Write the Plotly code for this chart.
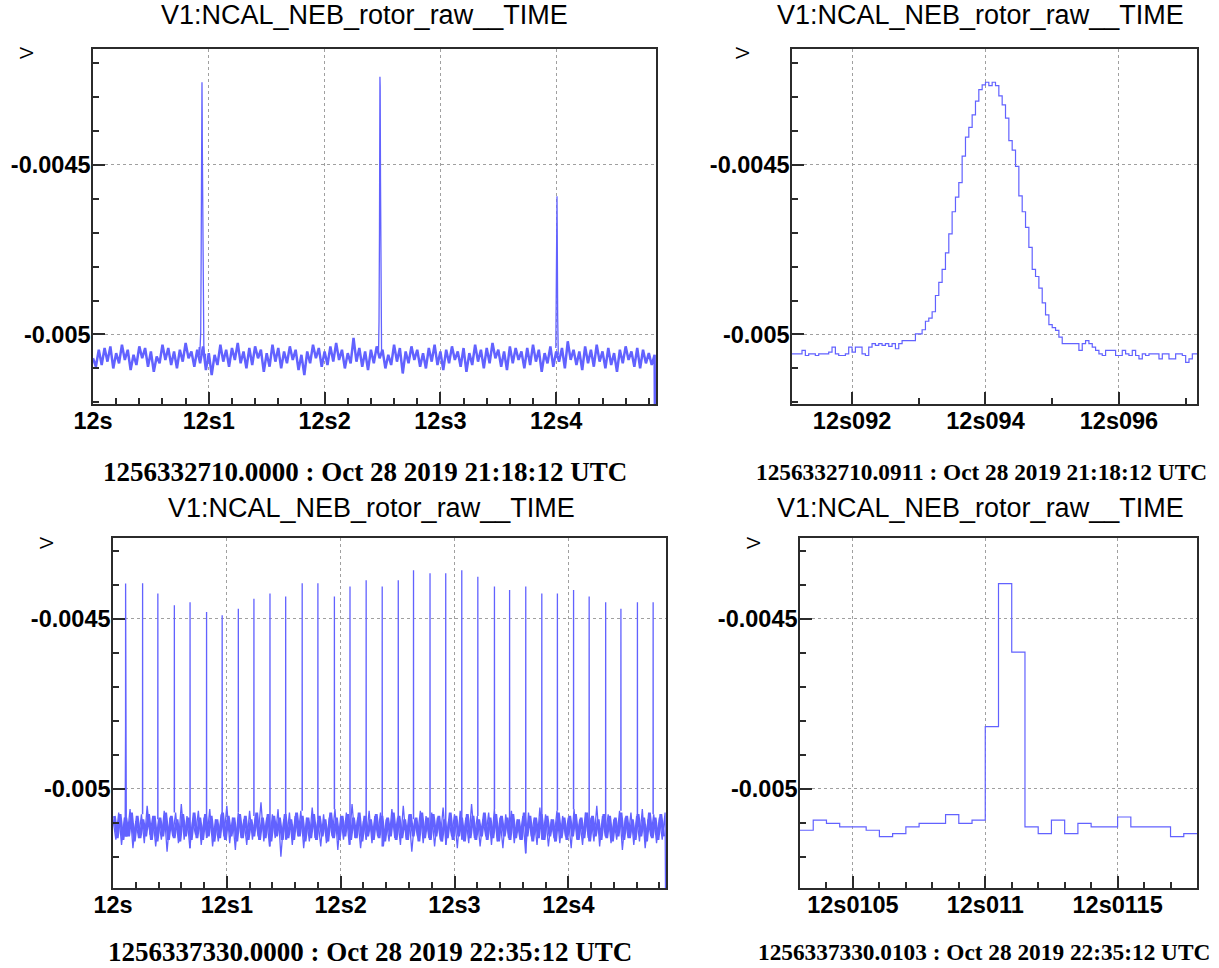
import numpy as np
import plotly.graph_objects as go

W, H = 1219, 968

# ---------------- text ----------------
panel_title = "V1:NCAL_NEB_rotor_raw__TIME"
y_title = "V"
tl_xlabel = "1256332710.0000 : Oct 28 2019 21:18:12 UTC"
tr_xlabel = "1256332710.0911 : Oct 28 2019 21:18:12 UTC"
bl_xlabel = "1256337330.0000 : Oct 28 2019 22:35:12 UTC"
br_xlabel = "1256337330.0103 : Oct 28 2019 22:35:12 UTC"

# ---------------- ticks ----------------
y_tickvals = [-0.005, -0.0045]
y_ticktext = ["-0.005", "-0.0045"]
wide_tickvals = [12.0, 12.1, 12.2, 12.3, 12.4]
wide_ticktext = ["12s", "12s1", "12s2", "12s3", "12s4"]
tr_tickvals = [12.092, 12.094, 12.096]
tr_ticktext = ["12s092", "12s094", "12s096"]
br_tickvals = [12.0105, 12.011, 12.0115]
br_ticktext = ["12s0105", "12s011", "12s0115"]

# ---------------- data ----------------
sample_dt = 0.00005      # 20 kHz samples (zoomed panels)
overview_dt = 0.0025     # spacing of the values

# top-right: zoom on first glitch, raw samples from 12.0911 s
tr_start = 12.0911
tr_values = [
    -0.005057, -0.005057, -0.005057, -0.005047, -0.005062, -0.005057, -0.005057, -0.005062, -0.005057, -0.005057,
    -0.005057, -0.005052, -0.005037, -0.005057, -0.005062, -0.005062, -0.005057, -0.005037, -0.005052, -0.005037,
    -0.005037, -0.005057, -0.005062, -0.005037, -0.005027, -0.005032, -0.005027, -0.005032, -0.005027, -0.005035,
    -0.005027, -0.005042, -0.005027, -0.005018, -0.005018, -0.005018, -0.005018, -0.004998, -0.004998, -0.004986,
    -0.004961, -0.004952, -0.004933, -0.004885, -0.004846, -0.004808, -0.004759, -0.004703, -0.004638, -0.004595,
    -0.004552, -0.004474, -0.004418, -0.004389, -0.004352, -0.004312, -0.004278, -0.004264, -0.004256, -0.004266,
    -0.004256, -0.004266, -0.004296, -0.004323, -0.004362, -0.004428, -0.004456, -0.004504, -0.004591, -0.004638,
    -0.004684, -0.004743, -0.004808, -0.004829, -0.004863, -0.004907, -0.004942, -0.004971, -0.004980, -0.004988,
    -0.005008, -0.005027, -0.005027, -0.005027, -0.005027, -0.005027, -0.005047, -0.005027, -0.005018, -0.005027,
    -0.005037, -0.005047, -0.005057, -0.005062, -0.005047, -0.005047, -0.005047, -0.005062, -0.005062, -0.005047,
    -0.005057, -0.005062, -0.005047, -0.005062, -0.005072, -0.005057, -0.005062, -0.005057, -0.005057, -0.005057,
    -0.005072, -0.005057, -0.005057, -0.005072, -0.005072, -0.005057, -0.005057, -0.005062, -0.005082, -0.005072,
    -0.005057, -0.005057,
]

# bottom-right: zoom on first glitch of second segment, raw samples from 12.0103 s
br_start = 12.0103
br_values = [
    -0.005122, -0.005092, -0.005102, -0.005112, -0.005112, -0.005122, -0.005141, -0.005132, -0.005112, -0.005102,
    -0.005102, -0.005076, -0.005102, -0.005092, -0.004817, -0.004396, -0.004598, -0.005112, -0.005132, -0.005092,
    -0.005132, -0.005102, -0.005112, -0.005112, -0.005083, -0.005112, -0.005112, -0.005112, -0.005141, -0.005132,
]

# top-left overview (12.0 s onwards, every 2.5 ms)
tl_start = 12.0
tl_base = [
    -0.005070, -0.005095, -0.005045, -0.005090, -0.005040, -0.005080, -0.005035, -0.005100, -0.005055, -0.005085,
    -0.005030, -0.005075, -0.005045, -0.005105, -0.005060, -0.005090, -0.005035, -0.005070, -0.005040, -0.005095,
    -0.005050, -0.005110, -0.005065, -0.005085, -0.005030, -0.005075, -0.005040, -0.005090, -0.005050, -0.005100,
    -0.005045, -0.005080, -0.005025, -0.005070, -0.005050, -0.005095, -0.005045, -0.005085, -0.005035, -0.005105,
    -0.005055, -0.005120, -0.005060, -0.005090, -0.005030, -0.005080, -0.005045, -0.005095, -0.005040, -0.005075,
    -0.005025, -0.005085, -0.005050, -0.005100, -0.005040, -0.005090, -0.005035, -0.005070, -0.005045, -0.005110,
    -0.005055, -0.005095, -0.005030, -0.005080, -0.005040, -0.005100, -0.005050, -0.005085, -0.005035, -0.005075,
    -0.005045, -0.005105, -0.005060, -0.005120, -0.005050, -0.005085, -0.005030, -0.005070, -0.005040, -0.005095,
    -0.005050, -0.005090, -0.005035, -0.005080, -0.005025, -0.005075, -0.005045, -0.005100, -0.005055, -0.005085,
    -0.005010, -0.005080, -0.005040, -0.005095, -0.005050, -0.005105, -0.005045, -0.005085, -0.005035, -0.005070,
    -0.005045, -0.005100, -0.005060, -0.005090, -0.005030, -0.005080, -0.005040, -0.005115, -0.005050, -0.005085,
    -0.005035, -0.005075, -0.005045, -0.005095, -0.005055, -0.005100, -0.005040, -0.005080, -0.005030, -0.005090,
    -0.005050, -0.005105, -0.005045, -0.005085, -0.005035, -0.005075, -0.005050, -0.005095, -0.005040, -0.005110,
    -0.005055, -0.005090, -0.005030, -0.005080, -0.005045, -0.005100, -0.005040, -0.005085, -0.005025, -0.005070,
    -0.005045, -0.005095, -0.005050, -0.005105, -0.005035, -0.005085, -0.005040, -0.005075, -0.005050, -0.005100,
    -0.005040, -0.005090, -0.005030, -0.005080, -0.005045, -0.005110, -0.005055, -0.005085, -0.005035, -0.005095,
    -0.005050, -0.005080, -0.005040, -0.005100, -0.005020, -0.005075, -0.005045, -0.005090, -0.005050, -0.005105,
    -0.005035, -0.005085, -0.005045, -0.005095, -0.005030, -0.005080, -0.005050, -0.005100, -0.005040, -0.005090,
    -0.005055, -0.005110, -0.005045, -0.005085, -0.005035, -0.005075, -0.005050, -0.005095, -0.005040, -0.005100,
    -0.005045, -0.005085, -0.005055, -0.005090, -0.005060,
]
# the two later glitches of the top-left segment
tl_glitch2_t = [12.2466, 12.2470, 12.2474, 12.2477, 12.2478, 12.2480, 12.2483, 12.2487, 12.2492]
tl_glitch2_v = [-0.005050, -0.004960, -0.004700, -0.004400, -0.004240, -0.004269, -0.004550, -0.004900, -0.005050]
tl_glitch3_t = [12.3997, 12.4003, 12.4007, 12.4009, 12.4013, 12.4018]
tl_glitch3_v = [-0.005040, -0.004850, -0.004592, -0.004695, -0.004950, -0.005060]
tl_end_t = 12.4858
tl_end_v = -0.0056

# bottom-left overview: outer excursions of the band, every 2.5 ms
bl_start = 12.0
bl_base = [
    -0.005090, -0.005150, -0.005070, -0.005165, -0.005085, -0.005140, -0.005060, -0.005175, -0.005095, -0.005145,
    -0.005075, -0.005160, -0.005050, -0.005135, -0.005080, -0.005170, -0.005090, -0.005150, -0.005065, -0.005185,
    -0.005085, -0.005140, -0.005070, -0.005160, -0.005045, -0.005150, -0.005080, -0.005175, -0.005095, -0.005135,
    -0.005065, -0.005165, -0.005085, -0.005145, -0.005060, -0.005170, -0.005090, -0.005155, -0.005075, -0.005140,
    -0.005050, -0.005160, -0.005085, -0.005180, -0.005070, -0.005145, -0.005090, -0.005165, -0.005065, -0.005150,
    -0.005080, -0.005140, -0.005040, -0.005155, -0.005085, -0.005170, -0.005075, -0.005145, -0.005060, -0.005200,
    -0.005090, -0.005150, -0.005070, -0.005165, -0.005080, -0.005140, -0.005065, -0.005175, -0.005085, -0.005155,
    -0.005055, -0.005145, -0.005090, -0.005170, -0.005075, -0.005160, -0.005085, -0.005140, -0.005060, -0.005180,
    -0.005080, -0.005150, -0.005070, -0.005165, -0.005045, -0.005145, -0.005085, -0.005175, -0.005095, -0.005150,
    -0.005065, -0.005160, -0.005080, -0.005140, -0.005070, -0.005170, -0.005090, -0.005155, -0.005060, -0.005145,
    -0.005085, -0.005165, -0.005050, -0.005150, -0.005075, -0.005185, -0.005090, -0.005140, -0.005065, -0.005160,
    -0.005080, -0.005145, -0.005070, -0.005170, -0.005085, -0.005150, -0.005055, -0.005165, -0.005090, -0.005140,
    -0.005075, -0.005175, -0.005065, -0.005150, -0.005085, -0.005160, -0.005045, -0.005145, -0.005080, -0.005170,
    -0.005090, -0.005140, -0.005070, -0.005165, -0.005060, -0.005155, -0.005085, -0.005175, -0.005075, -0.005145,
    -0.005065, -0.005160, -0.005090, -0.005150, -0.005080, -0.005190, -0.005070, -0.005140, -0.005085, -0.005165,
    -0.005055, -0.005150, -0.005075, -0.005170, -0.005090, -0.005145, -0.005065, -0.005160, -0.005080, -0.005140,
    -0.005085, -0.005175, -0.005060, -0.005150, -0.005090, -0.005165, -0.005070, -0.005145, -0.005085, -0.005155,
    -0.005050, -0.005170, -0.005080, -0.005140, -0.005075, -0.005160, -0.005090, -0.005150, -0.005065, -0.005180,
    -0.005085, -0.005145, -0.005070, -0.005165, -0.005080, -0.005155, -0.005060, -0.005175, -0.005090, -0.005140,
    -0.005075, -0.005160, -0.005085, -0.005150, -0.005070,
]
# bottom-left overview: dense core of the band (offset by half a step)
bl_core = [
    -0.005080, -0.005145, -0.005075, -0.005150, -0.005085, -0.005140, -0.005070, -0.005155, -0.005080, -0.005145,
    -0.005090, -0.005140, -0.005075, -0.005150, -0.005080, -0.005155, -0.005085, -0.005140, -0.005070, -0.005150,
    -0.005080, -0.005145, -0.005090, -0.005155, -0.005075, -0.005140, -0.005085, -0.005150, -0.005070, -0.005145,
    -0.005085, -0.005150, -0.005075, -0.005140, -0.005080, -0.005155, -0.005090, -0.005145, -0.005070, -0.005150,
    -0.005080, -0.005140, -0.005085, -0.005155, -0.005075, -0.005145, -0.005080, -0.005150, -0.005090, -0.005140,
    -0.005070, -0.005150, -0.005085, -0.005145, -0.005075, -0.005155, -0.005080, -0.005140, -0.005085, -0.005150,
    -0.005075, -0.005145, -0.005090, -0.005150, -0.005070, -0.005140, -0.005080, -0.005155, -0.005085, -0.005145,
    -0.005075, -0.005150, -0.005080, -0.005140, -0.005090, -0.005155, -0.005070, -0.005145, -0.005085, -0.005150,
    -0.005080, -0.005140, -0.005075, -0.005150, -0.005085, -0.005145, -0.005070, -0.005155, -0.005080, -0.005140,
    -0.005090, -0.005150, -0.005075, -0.005145, -0.005080, -0.005155, -0.005085, -0.005140, -0.005070, -0.005150,
    -0.005080, -0.005145, -0.005090, -0.005150, -0.005075, -0.005140, -0.005085, -0.005155, -0.005070, -0.005145,
    -0.005085, -0.005150, -0.005075, -0.005140, -0.005080, -0.005155, -0.005090, -0.005145, -0.005070, -0.005150,
    -0.005080, -0.005140, -0.005085, -0.005155, -0.005075, -0.005145, -0.005080, -0.005150, -0.005090, -0.005140,
    -0.005070, -0.005150, -0.005085, -0.005145, -0.005075, -0.005155, -0.005080, -0.005140, -0.005085, -0.005150,
    -0.005075, -0.005145, -0.005090, -0.005150, -0.005070, -0.005140, -0.005080, -0.005155, -0.005085, -0.005145,
    -0.005075, -0.005150, -0.005080, -0.005140, -0.005090, -0.005155, -0.005070, -0.005145, -0.005085, -0.005150,
    -0.005080, -0.005140, -0.005075, -0.005150, -0.005085, -0.005145, -0.005070, -0.005155, -0.005080, -0.005140,
    -0.005090, -0.005150, -0.005075, -0.005145, -0.005080, -0.005155, -0.005085, -0.005140, -0.005070, -0.005150,
    -0.005080, -0.005145, -0.005090, -0.005150, -0.005075, -0.005140, -0.005085, -0.005155, -0.005070, -0.005145,
    -0.005085, -0.005150, -0.005075, -0.005140,
]
# rotor glitches of the bottom-left segment (sample before, peak sample, sample after)
bl_spike_t = [12.0111, 12.0260, 12.0394, 12.0539, 12.0677, 12.0822, 12.0959, 12.1101, 12.1238, 12.1379,
              12.1517, 12.1662, 12.1800, 12.1945, 12.2082, 12.2224, 12.2365, 12.2506, 12.2640, 12.2785,
              12.2923, 12.3064, 12.3205, 12.3351, 12.3484, 12.3626, 12.3767, 12.3904, 12.4046, 12.4183,
              12.4328, 12.4462, 12.4607, 12.4745]
bl_spike_peak = [-0.004395, -0.004395, -0.004425, -0.004460, -0.004451, -0.004480, -0.004489, -0.004470, -0.004441, -0.004425,
                 -0.004434, -0.004395, -0.004395, -0.004434, -0.004405, -0.004386, -0.004405, -0.004386, -0.004357, -0.004366,
                 -0.004366, -0.004357, -0.004376, -0.004405, -0.004415, -0.004405, -0.004425, -0.004425, -0.004415, -0.004434,
                 -0.004451, -0.004470, -0.004451, -0.004451]
bl_spike_pre = [-0.004817, -0.004950, -0.004940, -0.004960, -0.004950, -0.004970, -0.004960, -0.004950, -0.004940, -0.004960,
                -0.004950, -0.004940, -0.004950, -0.004960, -0.004950, -0.004940, -0.004960, -0.004950, -0.004940, -0.004950,
                -0.004960, -0.004950, -0.004940, -0.004960, -0.004950, -0.004940, -0.004950, -0.004960, -0.004950, -0.004940,
                -0.004960, -0.004950, -0.004940, -0.004950]
bl_spike_post = [-0.004598, -0.004850, -0.004870, -0.004880, -0.004860, -0.004890, -0.004870, -0.004860, -0.004850, -0.004880,
                 -0.004870, -0.004860, -0.004880, -0.004850, -0.004870, -0.004860, -0.004880, -0.004870, -0.004850, -0.004860,
                 -0.004880, -0.004710, -0.004870, -0.004783, -0.004860, -0.004880, -0.004850, -0.004556, -0.004870, -0.004489,
                 -0.004860, -0.004880, -0.004850, -0.004870]
bl_end_t = 12.4858
bl_end_v = -0.0056

# ---------------- build series ----------------
def merge(t_a, v_a, t_b, v_b):
    t = np.concatenate([np.asarray(t_a, float), np.asarray(t_b, float)])
    v = np.concatenate([np.asarray(v_a, float), np.asarray(v_b, float)])
    o = np.argsort(t, kind="stable")
    return list(t[o]), list(v[o])

tr_t = tr_start + np.arange(len(tr_values)) * sample_dt
br_t = br_start + np.arange(len(br_values)) * sample_dt

# top-left: continuous band + glitch segments (thin)
tl_t0 = tl_start + np.arange(len(tl_base)) * overview_dt
tl_band_t, tl_band_v = merge(tl_t0, tl_base, [tl_end_t], [tl_end_v])
tl_gl_t = list(tr_t + sample_dt / 2) + [None] + tl_glitch2_t + [None] + tl_glitch3_t
tl_gl_v = list(tr_values) + [None] + tl_glitch2_v + [None] + tl_glitch3_v

# bottom-left: outer band (thin), dense core (thick), spike segments (thin)
bl_t0 = bl_start + np.arange(len(bl_base)) * overview_dt
bl_band_t, bl_band_v = merge(bl_t0, bl_base, [bl_end_t], [bl_end_v])
bl_core_t = list(bl_start + overview_dt / 2 + np.arange(len(bl_core)) * overview_dt)

bl_sp_t = list(br_t + sample_dt / 2) + [None]
bl_sp_v = list(br_values) + [None]
for t, a, p, b in zip(bl_spike_t, bl_spike_pre, bl_spike_peak, bl_spike_post):
    if br_t[0] <= t <= br_t[-1] + sample_dt:
        continue
    k = int(round((t - bl_start) / overview_dt))
    foot = bl_base[min(k, len(bl_base) - 1)]
    bl_sp_t += [t - 2 * sample_dt, t - sample_dt, t, t + sample_dt, t + 2 * sample_dt, None]
    bl_sp_v += [foot, a, p, b, foot, None]

# step (histogram-like) series for zoom panels
tr_step_t = list(tr_t) + [tr_t[-1] + sample_dt]
tr_step_v = list(tr_values) + [tr_values[-1]]
br_step_t = list(br_t) + [br_t[-1] + sample_dt]
br_step_v = list(br_values) + [br_values[-1]]

# ---------------- figure ----------------
LINE = "rgb(98,98,255)"
FRAME = "#2b2b2b"
GRID = "#a0a0a0"

# panel frames in pixels (x0, x1, y0, y1)
frames = {
    "tl": (93, 656, 49, 404),
    "tr": (792, 1197, 49, 404),
    "bl": (113, 666, 538, 888),
    "br": (800, 1197, 538, 888),
}

def xdom(f):
    return [f[0] / W, f[1] / W]

def ydom(f):
    return [1 - f[3] / H, 1 - f[2] / H]

tickfont = dict(family="Liberation Sans, Arial, sans-serif", size=23.5, color="black", weight="bold")

def axis(dom, rng, tv, tt, minor_dtick, minor_tick0, is_x):
    return dict(
        domain=dom, range=rng, tickmode="array", tickvals=tv, ticktext=tt,
        showline=True, linecolor=FRAME, linewidth=1.5, mirror=True,
        ticks="inside", ticklen=12, tickwidth=1.5, tickcolor=FRAME,
        showgrid=True, gridcolor=GRID, griddash="dot", gridwidth=1,
        zeroline=False, tickfont=tickfont, fixedrange=True, automargin=False,
        ticklabelstandoff=-5 if is_x else -4,
        minor=dict(ticks="inside", ticklen=6, tickwidth=1.5, tickcolor=FRAME,
                   tickmode="linear", dtick=minor_dtick, tick0=minor_tick0, showgrid=False),
    )

fig = go.Figure()
fig.add_trace(go.Scatter(x=tl_band_t, y=tl_band_v, mode="lines", line=dict(color=LINE, width=2.5), xaxis="x", yaxis="y"))
fig.add_trace(go.Scatter(x=tl_gl_t, y=tl_gl_v, mode="lines", line=dict(color=LINE, width=1.3), connectgaps=False, xaxis="x", yaxis="y"))
fig.add_trace(go.Scatter(x=tr_step_t, y=tr_step_v, mode="lines", line=dict(color=LINE, width=1.2, shape="hv"), xaxis="x2", yaxis="y2"))
fig.add_trace(go.Scatter(x=bl_band_t, y=bl_band_v, mode="lines", line=dict(color=LINE, width=1.3), xaxis="x3", yaxis="y3"))
fig.add_trace(go.Scatter(x=bl_core_t, y=bl_core, mode="lines", line=dict(color=LINE, width=2.8), xaxis="x3", yaxis="y3"))
fig.add_trace(go.Scatter(x=bl_sp_t, y=bl_sp_v, mode="lines", line=dict(color=LINE, width=1.3), connectgaps=False, xaxis="x3", yaxis="y3"))
fig.add_trace(go.Scatter(x=br_step_t, y=br_step_v, mode="lines", line=dict(color=LINE, width=1.2, shape="hv"), xaxis="x4", yaxis="y4"))

top_y = [-0.005205, -0.004158]
bot_y = [-0.005292, -0.004262]

fig.update_layout(
    width=W, height=H, margin=dict(l=0, r=0, t=0, b=0, autoexpand=False),
    paper_bgcolor="white", plot_bgcolor="white", showlegend=False,
    xaxis=axis(xdom(frames["tl"]), [12.0, 12.4862], wide_tickvals, wide_ticktext, 0.02, 12.0, True) | dict(anchor="y"),
    yaxis=axis(ydom(frames["tl"]), top_y, y_tickvals, y_ticktext, 0.0001, 0.0, False) | dict(anchor="x"),
    xaxis2=axis(xdom(frames["tr"]), [12.0911, 12.09717], tr_tickvals, tr_ticktext, 0.001, 12.0, True) | dict(anchor="y2"),
    yaxis2=axis(ydom(frames["tr"]), top_y, y_tickvals, y_ticktext, 0.0001, 0.0, False) | dict(anchor="x2"),
    xaxis3=axis(xdom(frames["bl"]), [12.0, 12.4858], wide_tickvals, wide_ticktext, 0.02, 12.0, True) | dict(anchor="y3"),
    yaxis3=axis(ydom(frames["bl"]), bot_y, y_tickvals, y_ticktext, 0.0001, 0.0, False) | dict(anchor="x3"),
    xaxis4=axis(xdom(frames["br"]), [12.0103, 12.0118], br_tickvals, br_ticktext, 0.0001, 12.0, True) | dict(anchor="y4"),
    yaxis4=axis(ydom(frames["br"]), bot_y, y_tickvals, y_ticktext, 0.0001, 0.0, False) | dict(anchor="x4"),
)

def ann(text, cx, cy, size, family, bold=False, angle=0):
    fig.add_annotation(
        text=text, x=cx / W, y=1 - cy / H, xref="paper", yref="paper",
        xanchor="center", yanchor="middle", showarrow=False, textangle=angle,
        font=dict(family=family, size=size, color="black", weight="bold" if bold else "normal"),
    )

SANS = "Liberation Sans, Arial, sans-serif"
SERIF = "Liberation Serif, Times New Roman, serif"
ann(panel_title, 364, 15, 27, SANS)
ann(panel_title, 980, 15, 27, SANS)
ann(panel_title, 371, 508, 27, SANS)
ann(panel_title, 980, 508, 27, SANS)
ann(tl_xlabel, 365, 472, 27, SERIF, bold=True)
ann(tr_xlabel, 982, 472, 23.3, SERIF, bold=True)
ann(bl_xlabel, 370, 952, 27, SERIF, bold=True)
ann(br_xlabel, 984, 952, 23.3, SERIF, bold=True)
ann(y_title, 27, 53, 18, SANS, angle=-90)
ann(y_title, 743, 53, 18, SANS, angle=-90)
ann(y_title, 47, 543, 18, SANS, angle=-90)
ann(y_title, 754, 543, 18, SANS, angle=-90)

fig.write_html("out.html")
